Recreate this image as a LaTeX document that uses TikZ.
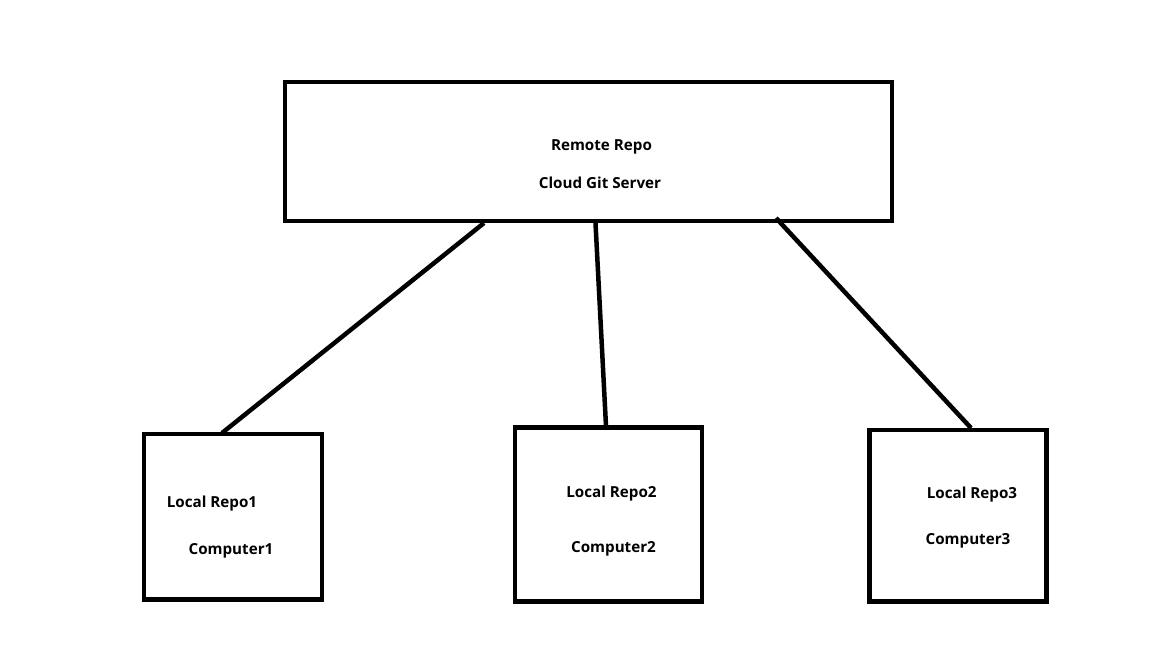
\documentclass[tikz,border=0pt]{standalone}
\usepackage{fontspec}
\setmainfont{Open Sans}
\begin{document}
\begin{tikzpicture}[x=1pt,y=-1pt,
  box/.style={draw=black,line width=4.5pt,inner sep=0pt},
  lbl/.style={font=\bfseries\fontsize{15.2}{17}\selectfont,inner sep=0pt,anchor=center,yshift=-1.5pt},
  conn/.style={draw=black,line width=4.5pt}]
\useasboundingbox[fill=white] (0,0) rectangle (1152,648);
\node[box,minimum width=607pt,minimum height=139pt] (remote) at (588.5,151.5) {};
\node[box,minimum width=178pt,minimum height=165.5pt] (c1) at (233,516.75) {};
\node[box,minimum width=187pt,minimum height=174pt] (c2) at (608.5,514.5) {};
\node[box,minimum width=177pt,minimum height=171.5pt] (c3) at (958,515.75) {};
\node[lbl] (t0a) at (601.5,145) {Remote Repo};
\node[lbl] (t0b) at (600,181) {Cloud Git Server};
\node[lbl] (t1a) at (212,502) {Local Repo1};
\node[lbl] (t1b) at (231,549) {Computer1};
\node[lbl] (t2a) at (611.5,492) {Local Repo2};
\node[lbl] (t2b) at (613.5,547) {Computer2};
\node[lbl] (t3a) at (972,493) {Local Repo3};
\node[lbl] (t3b) at (968,539) {Computer3};
\coordinate (r1) at (484,223);
\coordinate (r2) at (595.5,223);
\coordinate (r3) at (776,218);
\coordinate (b1) at (222,433);
\coordinate (b2) at (606,426);
\coordinate (b3) at (971,428);
\draw[conn] (r1) -- (b1);
\draw[conn] (r2) -- (b2);
\draw[conn] (r3) -- (b3);
\end{tikzpicture}
\end{document}
